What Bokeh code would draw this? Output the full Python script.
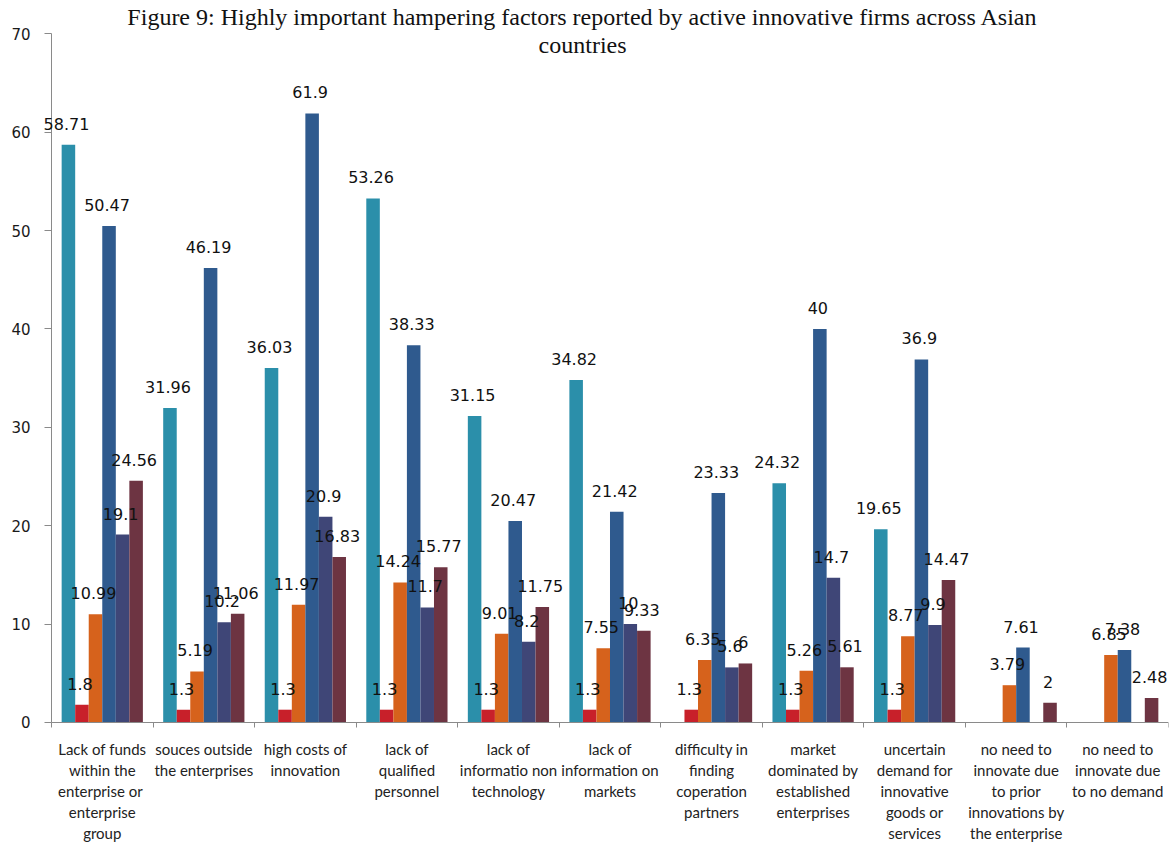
from bokeh.plotting import figure
from bokeh.models import ColumnDataSource, Range1d, LinearAxis, FixedTicker, Label, LabelSet
from bokeh.core.properties import value
from bokeh.embed import file_html
from bokeh.resources import INLINE

# ---- data ----
categories = [
    "Lack of funds\nwithin the\nenterprise  or\nenterprise\ngroup",
    "souces outside\nthe enterprises",
    "high costs of\ninnovation",
    "lack of\nqualified\npersonnel",
    "lack of\ninformatio non\ntechnology",
    "lack of\ninformation on\nmarkets",
    "difficulty in\nfinding\ncoperation\npartners",
    "market\ndominated by\nestablished\nenterprises",
    "uncertain\ndemand for\ninnovative\ngoods or\nservices",
    "no need to\ninnovate due\nto prior\ninnovations by\nthe enterprise",
    "no need to\ninnovate due\nto no demand",
]

series_1 = [58.71, 31.96, 36.03, 53.26, 31.15, 34.82, None, 24.32, 19.65, None, None]
series_2 = [1.8, 1.3, 1.3, 1.3, 1.3, 1.3, 1.3, 1.3, 1.3, None, None]
series_3 = [10.99, 5.19, 11.97, 14.24, 9.01, 7.55, 6.35, 5.26, 8.77, 3.79, 6.85]
series_4 = [50.47, 46.19, 61.9, 38.33, 20.47, 21.42, 23.33, 40, 36.9, 7.61, 7.38]
series_5 = [19.1, 10.2, 20.9, 11.7, 8.2, 10, 5.6, 14.7, 9.9, None, None]
series_6 = [24.56, 11.06, 16.83, 15.77, 11.75, 9.33, 6, 5.61, 14.47, 2, 2.48]

y_ticks = [0, 10, 20, 30, 40, 50, 60, 70]

title_line1 = "Figure 9: Highly important hampering factors reported by active innovative firms across Asian"
title_line2 = "countries"

# ---- styles ----
colors = ["#2B8FAA", "#C8202A", "#D6621C", "#2F5A8E", "#3F4677", "#6D3442"]
all_series = [series_1, series_2, series_3, series_4, series_5, series_6]

n_cat = len(categories)
n_ser = len(all_series)
group_frac = 0.8
bar_w = group_frac / n_ser

p = figure(
    width=1172, height=844,
    x_range=Range1d(-0.5022, n_cat), y_range=Range1d(-12.40, 73.38),
    output_backend="svg", toolbar_location=None,
    x_axis_location=None, y_axis_location=None,
    min_border_left=0, min_border_right=4, min_border_top=0, min_border_bottom=0,
)
p.outline_line_color = None
p.grid.visible = False
p.background_fill_color = "white"
p.border_fill_color = "white"

# y axis drawn at x = 0 (value axis)
yax = LinearAxis(
    fixed_location=0,
    ticker=FixedTicker(ticks=y_ticks),
    bounds=(0, 70),
    axis_line_color="#8a8a8a", major_tick_line_color="#8a8a8a",
    major_tick_in=0, major_tick_out=7,
    minor_tick_line_color=None,
    major_label_standoff=14,
    major_label_text_font="DejaVu Sans",
    major_label_text_font_size="15px",
    major_label_text_color="#1a1a1a",
)
p.add_layout(yax, "left")

# x axis at y = 0 with ticks at group boundaries
xax = LinearAxis(
    fixed_location=0,
    ticker=FixedTicker(ticks=list(range(n_cat + 1))),
    bounds=(0, n_cat),
    major_label_overrides={i: "" for i in range(n_cat + 1)},
    major_tick_in=0, major_tick_out=5,
    minor_tick_line_color=None,
    axis_line_color="#8a8a8a", major_tick_line_color="#8a8a8a",
)
p.add_layout(xax, "below")

# bars first, then value labels on top of all bars
sources = []
for j, (vals, col) in enumerate(zip(all_series, colors)):
    xs, ys, txt = [], [], []
    for i, v in enumerate(vals):
        if v is None:
            continue
        xs.append(i + (1 - group_frac) / 2 + (j + 0.5) * bar_w)
        ys.append(v)
        txt.append(f"{v:g}")
    src = ColumnDataSource(dict(x=xs, top=ys, label=txt))
    sources.append(src)
    p.vbar(x="x", top="top", bottom=0, width=bar_w, source=src,
           fill_color=col, line_color=None)

for src in sources:
    p.add_layout(LabelSet(x="x", y="top", text="label", source=src,
                          text_align="center", text_baseline="alphabetic",
                          x_offset=-2, y_offset=15,
                          text_font=value("DejaVu Sans"), text_font_size=value("16px"),
                          text_color="#111111"))

# category labels beneath axis
cat_src = ColumnDataSource(dict(x=[i + 0.5 for i in range(n_cat)],
                                y=[0] * n_cat, text=categories))
p.text(x="x", y="y", text="text", source=cat_src,
       text_align="center", text_baseline="top", y_offset=18,
       text_font=value("Lato"), text_font_size="15px",
       text_line_height=1.16, text_color="#222222")

# title (inside plot area as in the reference)
for t, yy in [(title_line1, 71.75), (title_line2, 68.9)]:
    p.add_layout(Label(x=5.23, y=yy, text=t, text_align="center",
                       text_baseline="alphabetic",
                       text_font="Liberation Serif", text_font_size="24px",
                       text_color="#111111"))

open("out.html", "w").write(file_html(p, INLINE))
